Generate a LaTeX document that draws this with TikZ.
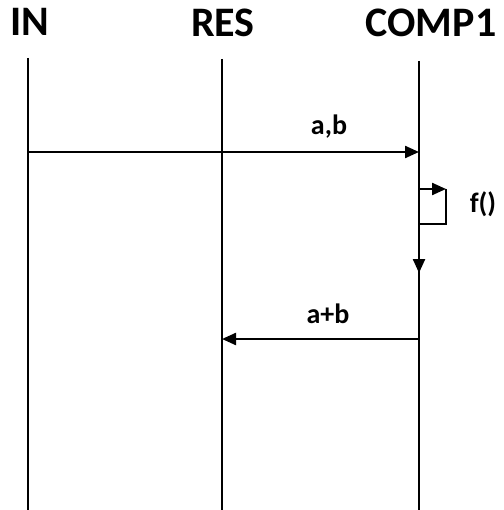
\documentclass[tikz,border=0pt]{standalone}
\usepackage{fontspec}
\setmainfont{Carlito}
\usetikzlibrary{arrows.meta}
\begin{document}
\begin{tikzpicture}[x=1pt,y=-1pt,
  line/.style={line width=2.5pt},
  msg/.style={line width=2.3pt,-{Triangle[length=14pt,width=12pt]}},
  head/.style={font=\bfseries\fontsize{42}{42}\selectfont,inner sep=0pt},
  lbl/.style={font=\bfseries\fontsize{28}{28}\selectfont,inner sep=0pt}]
  \useasboundingbox (0,0) rectangle (503,510);
  % participants
  \node[head,anchor=base] (hIN)  at (30,36)  {IN};
  \node[head,anchor=base] (hRES) at (223,37) {RES};
  \node[head,anchor=base] (hC)   at (431,37) {COMP1};
  % lifelines
  \coordinate (tIN) at (28,58);   \coordinate (bIN) at (28,510);
  \coordinate (tRES) at (222,59); \coordinate (bRES) at (222,510);
  \coordinate (tC) at (419,61);   \coordinate (bC) at (419,510);
  \draw[line] (tIN) -- (bIN);
  \draw[line] (tRES) -- (bRES);
  \draw[line] (tC) -- (bC);
  % message a,b
  \coordinate (m1s) at (28,152);
  \coordinate (m1e) at (419,152);
  \draw[msg] (m1s) -- (m1e);
  \node[lbl,anchor=base] (l1) at (329,135) {a,b};
  % self call f()
  \coordinate (s0) at (419,189);
  \coordinate (s1) at (446,189);
  \coordinate (s2) at (446,224);
  \coordinate (s3) at (419,224);
  \draw[msg] (s0) -- (s1);
  \draw[line,line join=miter] (s1) -- (s2) -- (s3);
  \node[lbl,anchor=base] (lf) at (483,213) {f()};
  % activation continues downwards
  \coordinate (d1) at (419,273);
  \draw[msg] (s3) -- (d1);
  % message a+b
  \coordinate (m2s) at (419,339);
  \coordinate (m2e) at (222,339);
  \draw[msg] (m2s) -- (m2e);
  \node[lbl,anchor=base] (l2) at (328,323) {a+b};
\end{tikzpicture}
\end{document}
